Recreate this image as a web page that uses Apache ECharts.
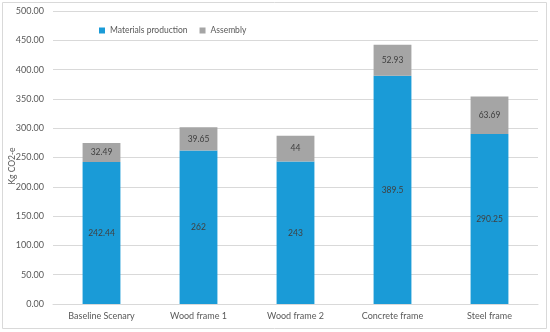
<!DOCTYPE html>
<html><head><meta charset="utf-8">
<script src="https://cdn.jsdelivr.net/npm/echarts@6/dist/echarts.min.js"></script>
<style>html,body{margin:0;padding:0;background:#fff}#c{width:550px;height:332px}</style>
</head><body><div id="c"></div>
<script>
const categories = ['Baseline Scenary', 'Wood frame 1', 'Wood frame 2', 'Concrete frame', 'Steel frame'];
const materials = [242.44, 262, 243, 389.5, 290.25];
const assembly = [32.49, 39.65, 44, 52.93, 63.69];
const seriesNames = ['Materials production', 'Assembly'];
const yAxisName = 'Kg CO2-e';

const chart = echarts.init(document.getElementById('c'));
const font = 'Lato, Open Sans, sans-serif';
const lbl = {show: true, position: 'inside', color: '#404040', fontSize: 8.5, fontFamily: font};
chart.setOption({
  animation: false,
  graphic: [
    {type: 'rect', shape: {x: 2.5, y: 2.5, width: 544, height: 326}, style: {fill: 'none', stroke: '#D9D9D9', lineWidth: 1}},
    {type: 'text', x: 12, y: 166, rotation: Math.PI / 2, style: {text: yAxisName, fill: '#595959', fontSize: 8.5, fontFamily: font, align: 'center', verticalAlign: 'middle'}}
  ],
  legend: {
    top: 21, left: 94, itemWidth: 6, itemHeight: 6, itemGap: 12,
    textStyle: {color: '#595959', fontSize: 8.5, fontFamily: font},
    data: [{name: seriesNames[0], icon: 'rect'}, {name: seriesNames[1], icon: 'rect'}]
  },
  grid: {left: 53, right: 12, top: 11, bottom: 28, containLabel: false},
  xAxis: {
    type: 'category', data: categories,
    axisLine: {lineStyle: {color: '#D9D9D9'}}, axisTick: {show: false},
    axisLabel: {color: '#595959', fontSize: 9, fontFamily: font, margin: 8}
  },
  yAxis: {
    type: 'value', min: 0, max: 500, interval: 50,
    axisLabel: {color: '#595959', fontSize: 9, fontFamily: font, formatter: v => v.toFixed(2), margin: 9},
    splitLine: {lineStyle: {color: '#D9D9D9'}},
    axisLine: {show: false}, axisTick: {show: false}
  },
  series: [
    {name: seriesNames[0], type: 'bar', stack: 'a', data: materials, barWidth: '39%', itemStyle: {color: '#1A9BD7'}, label: lbl},
    {name: seriesNames[1], type: 'bar', stack: 'a', data: assembly, barWidth: '39%', itemStyle: {color: '#A5A5A5'}, label: lbl}
  ]
});
</script></body></html>
